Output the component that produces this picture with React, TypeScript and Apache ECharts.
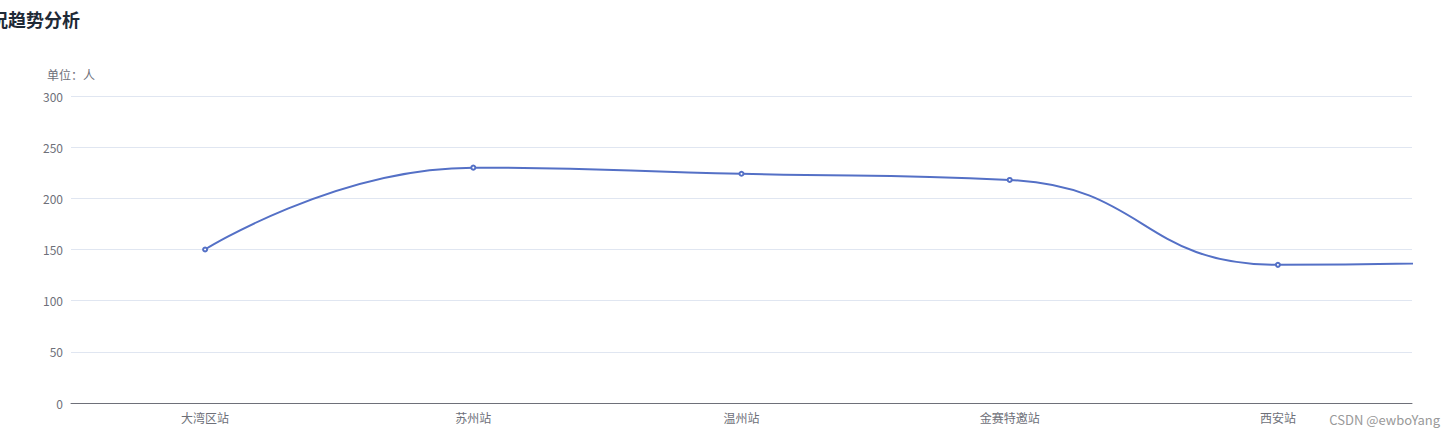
import React, { useEffect, useRef } from "react";
import * as echarts from "echarts";

const titleText = "参赛情况趋势分析";
const unitName = "单位：人";
const categories = ["大湾区站", "苏州站", "温州站", "金赛特邀站", "西安站"];
const participants = [150, 230, 224, 218, 135, 140];
const watermark = "CSDN @ewboYang";

const FONT = "'Microsoft YaHei', 'Noto Sans CJK SC', sans-serif";

export default function App() {
  const ref = useRef<HTMLDivElement>(null);
  useEffect(() => {
    if (!ref.current) return;
    const chart = echarts.init(ref.current, undefined, { renderer: "svg" });
    chart.setOption({
      animation: false,
      textStyle: { fontFamily: FONT },
      title: {
        text: titleText,
        left: -69,
        top: 5,
        textStyle: { fontSize: 18, fontWeight: "bold", color: "#1f2a37", fontFamily: FONT },
      },
      grid: { left: 71, right: 42, top: 96, bottom: 35, containLabel: false },
      xAxis: {
        type: "category",
        data: categories,
        axisLine: { lineStyle: { color: "#6E7079" } },
        axisLabel: { color: "#6E7079", fontSize: 12, margin: 8 },
      },
      yAxis: {
        type: "value",
        name: unitName,
        nameGap: 16,
        nameTextStyle: { color: "#6E7079", fontSize: 12 },
        min: 0,
        max: 300,
        interval: 50,
        axisLabel: { color: "#6E7079", fontSize: 12 },
        splitLine: { lineStyle: { color: "#E0E6F1" } },
      },
      series: [
        {
          type: "line",
          data: participants,
          smooth: true,
          symbol: "emptyCircle",
          symbolSize: 4,
          lineStyle: { width: 2, color: "#5470c6" },
          itemStyle: { color: "#5470c6" },
        },
      ],
      graphic: [
        {
          type: "text",
          right: 14,
          top: 413,
          style: { text: watermark, fill: "#999", fontSize: 13, fontFamily: FONT },
        },
      ],
    });
    return () => chart.dispose();
  }, []);
  return (
    <div
      ref={ref}
      style={{ position: "absolute", left: 0, top: 0, width: 1454, height: 438 }}
    />
  );
}
